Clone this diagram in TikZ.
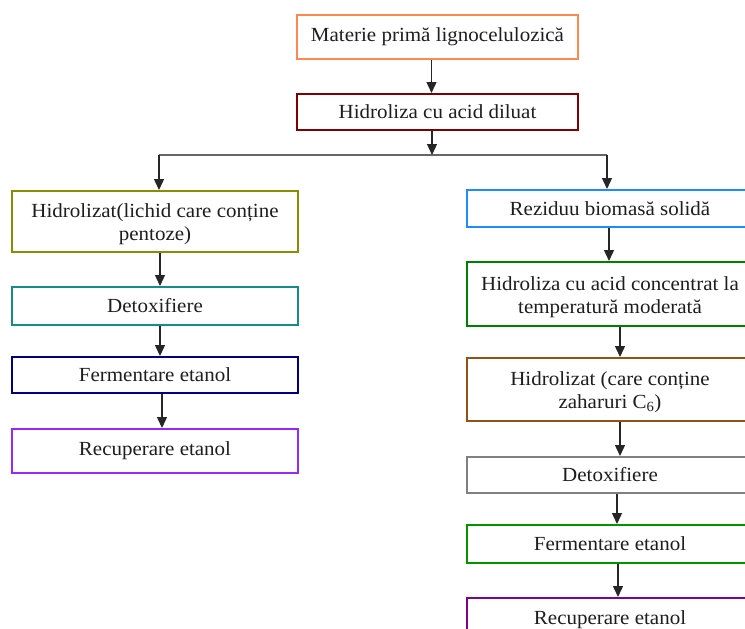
\documentclass[tikz,border=0pt]{standalone}
\usepackage{fontspec}
\setmainfont{Liberation Serif}[FakeStretch=1.05]
\usetikzlibrary{arrows.meta}

\definecolor{cOrange}{RGB}{255,136,77}
\definecolor{cDarkRed}{RGB}{128,0,0}
\definecolor{cOlive}{RGB}{140,140,0}
\definecolor{cTeal}{RGB}{20,140,140}
\definecolor{cNavy}{RGB}{0,0,128}
\definecolor{cViolet}{RGB}{150,40,255}
\definecolor{cBlue}{RGB}{30,140,255}
\definecolor{cGreen}{RGB}{0,128,0}
\definecolor{cBrown}{RGB}{150,80,20}
\definecolor{cGray}{RGB}{128,128,128}
\definecolor{cGreenB}{RGB}{0,150,0}
\definecolor{cPurple}{RGB}{130,0,140}
\definecolor{cText}{RGB}{30,30,30}

% taller first line, so two-line labels sit a little lower in their box
\newcommand\toppad{\rule{0pt}{20pt}}

\begin{document}
\begin{tikzpicture}[x=1pt,y=-1pt,
  box/.style={draw, line width=2pt, fill=white, inner sep=0pt, align=center,
              text=cText, font=\fontsize{20}{23}\selectfont},
  wide/.style={minimum width=286pt},
  flow/.style={-{Triangle[length=11pt,width=10pt]}, line width=1.4pt, black!85},
  splitline/.style={line width=1.6pt, gray!80!black}]
\useasboundingbox (0,0) rectangle (745,629);
\clip (0,0) rectangle (745,629);

% trunk
\node[box, draw=cOrange, minimum width=281pt, minimum height=44pt] (raw) at (437.5,37) {Materie primă lignocelulozică};
\node[box, draw=cDarkRed, minimum width=281pt, minimum height=36pt] (dil) at (437.5,112) {Hidroliza cu acid diluat};

% left branch: pentose stream
\node[box, wide, draw=cOlive, minimum height=61pt] (hydL) at (155,221.5) {\toppad Hidrolizat(lichid care conține\\pentoze)};
\node[box, wide, draw=cTeal, minimum height=38pt] (detL) at (155,306) {Detoxifiere};
\node[box, wide, draw=cNavy, minimum height=36pt] (ferL) at (155,375) {Fermentare etanol};
\node[box, wide, draw=cViolet, minimum height=44pt] (recL) at (155,451) {Recuperare etanol};

% right branch: solid residue
\node[box, wide, draw=cBlue, minimum height=37pt] (res) at (610,208.5) {Reziduu biomasă solidă};
\node[box, wide, draw=cGreen, minimum height=64pt] (conc) at (610,294) {\toppad Hidroliza cu acid concentrat la\\temperatură moderată};
\node[box, wide, draw=cBrown, minimum height=63pt] (hydR) at (610,389.5) {\toppad Hidrolizat (care conține\\zaharuri C\textsubscript{6})};
\node[box, wide, draw=cGray, minimum height=36pt] (detR) at (610,475) {Detoxifiere};
\node[box, wide, draw=cGreenB, minimum height=38pt] (ferR) at (610,544) {Fermentare etanol};
\node[box, wide, draw=cPurple, minimum height=44pt] (recR) at (610,620) {Recuperare etanol};

% split
\coordinate (split) at (432,155);
\coordinate (jl) at (159,155);
\coordinate (jr) at (607,155);
\draw[splitline] (jl) -- (jr);

% connectors
\draw[flow] ([xshift=-6pt]raw.south) -- ([xshift=-6pt]dil.north);
\draw[flow] ([xshift=-5.5pt]dil.south) -- (split);
\draw[flow] (jl) -- (jl |- hydL.north);
\draw[flow] (jr) -- (jr |- res.north);

\draw[flow] ([xshift=5pt]hydL.south) -- ([xshift=5pt]detL.north);
\draw[flow] ([xshift=5pt]detL.south) -- ([xshift=5pt]ferL.north);
\draw[flow] ([xshift=7pt]ferL.south) -- ([xshift=7pt]recL.north);

\draw[flow] ([xshift=-1pt]res.south) -- ([xshift=-1pt]conc.north);
\draw[flow] ([xshift=10pt]conc.south) -- ([xshift=10pt]hydR.north);
\draw[flow] ([xshift=10pt]hydR.south) -- ([xshift=10pt]detR.north);
\draw[flow] ([xshift=7pt]detR.south) -- ([xshift=7pt]ferR.north);
\draw[flow] ([xshift=8pt]ferR.south) -- ([xshift=8pt]recR.north);
\end{tikzpicture}
\end{document}
